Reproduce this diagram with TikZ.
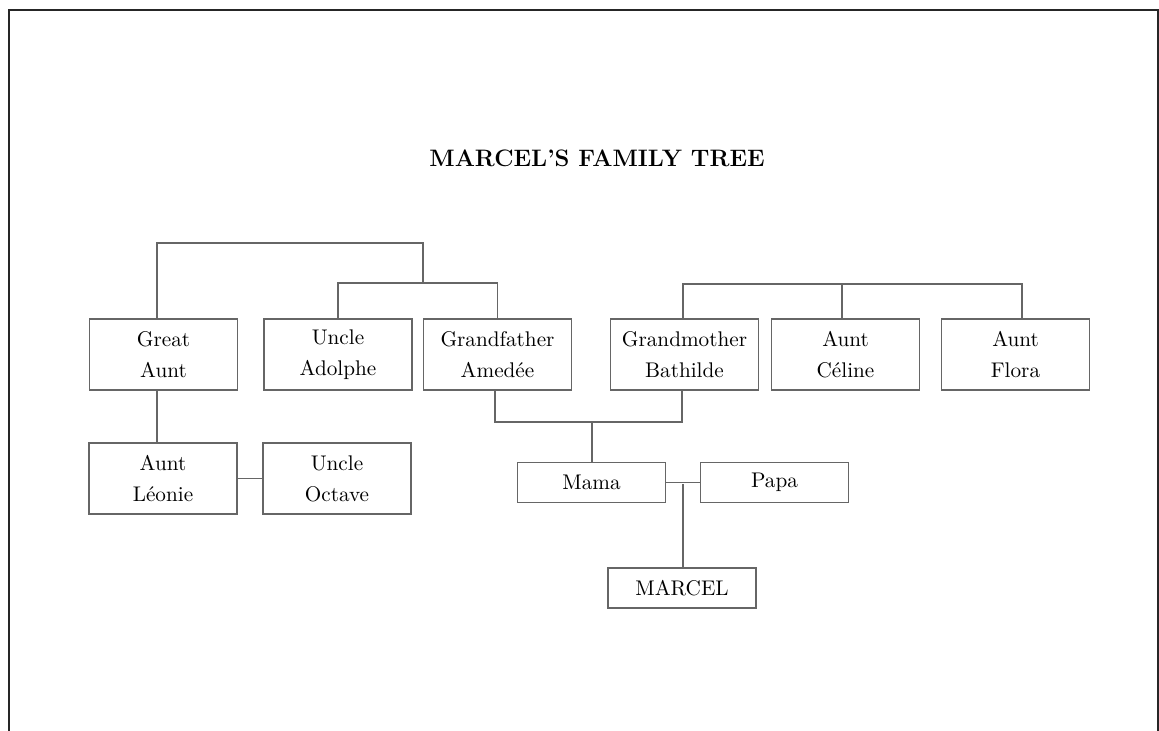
\documentclass[tikz,border=0pt]{standalone}
\begin{document}
\begin{tikzpicture}[x=0.5pt,y=-0.5pt,
  box/.style={draw=black!60, line width=0.7pt, inner sep=0pt, align=center,
    minimum width=74pt, minimum height=35.5pt, font=\fontsize{10.6}{15.5}\selectfont},
  sbox/.style={box, minimum height=20pt},
  link/.style={draw=black!60, line width=0.7pt},
  frame/.style={draw=black!85, line width=1pt}]
\useasboundingbox (0,0) rectangle (1159,731);
\draw[frame] (9,731) -- (9,10) -- (1158,10) -- (1158,731);
\node[font=\fontsize{11.9}{14}\selectfont\bfseries] (title) at (597,158) {MARCEL'S FAMILY TREE};
% top row
\node[box] (ga) at (163.5,354.5) {Great\\Aunt};
\node[box] (ua) at (338,354.5) {Uncle\\Adolphe};
\node[box] (gf) at (497.5,354.5) {Grandfather\\Amedée};
\node[box] (gm) at (684.5,354.5) {Grandmother\\Bathilde};
\node[box] (ac) at (845.5,354.5) {Aunt\\Céline};
\node[box] (af) at (1015.5,354.5) {Aunt\\Flora};
% second row
\node[box] (al) at (163,478.5) {Aunt\\Léonie};
\node[box] (uo) at (337,478.5) {Uncle\\Octave};
\node[sbox] (mama) at (591.5,482.5) {Mama};
\node[sbox] (papa) at (774.5,482.5) {Papa};
\node[sbox] (marcel) at (682,588) {MARCEL};
% junction coordinates
\coordinate (t1) at (157,243);
\coordinate (t2) at (423,243);
\coordinate (j1) at (423,283);
\coordinate (r1) at (683,284);
\coordinate (r2) at (842,284);
\coordinate (r3) at (1022,284);
\coordinate (m1) at (495,422);
\coordinate (m2) at (682,422);
\coordinate (m3) at (592,422);
\coordinate (p1) at (683,484);
% connectors
\draw[link] (ga.north -| t1) -- (t1) -- (t2) -- (j1);
\draw[link] (ua.north) |- (j1) -| (gf.north);
\draw[link] (gm.north -| r1) -- (r1) -- (r3) -- (af.north -| r3);
\draw[link] (r2) -- (ac.north -| r2);
\draw[link] (ga.south -| t1) -- (al.north -| t1);
\draw[link] (al.east) -- (uo.west);
\draw[link] (gf.south -| m1) -- (m1) -- (m2) -- (gm.south -| m2);
\draw[link] (m3) -- (mama.north -| m3);
\draw[link] (mama.east) -- (papa.west);
\draw[link] (p1) -- (marcel.north -| p1);
\end{tikzpicture}
\end{document}
